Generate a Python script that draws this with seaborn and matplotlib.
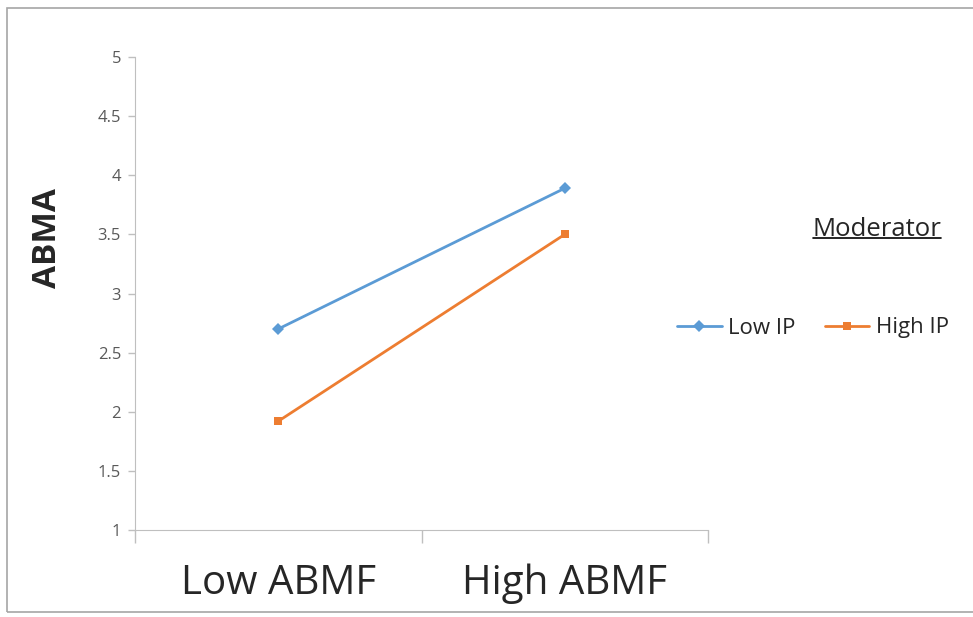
import matplotlib
matplotlib.use("Agg")
import matplotlib.pyplot as plt
from matplotlib.lines import Line2D
from matplotlib.patches import Rectangle
import pandas as pd
import seaborn as sns

# data
categories = ["Low ABMF", "High ABMF"]
low_ip = [2.70, 3.89]
high_ip = [1.92, 3.50]
series_names = ["Low IP", "High IP"]
y_ticks = [1, 1.5, 2, 2.5, 3, 3.5, 4, 4.5, 5]

df = pd.DataFrame({
    "x": [0, 1, 0, 1],
    "ABMA": low_ip + high_ip,
    "Moderator": [series_names[0]] * 2 + [series_names[1]] * 2,
})

sns.set_style("white")
plt.rcParams["font.family"] = ["Open Sans", "DejaVu Sans"]

colors = {"Low IP": "#5B9BD5", "High IP": "#ED7D31"}
markers = {"Low IP": "D", "High IP": "s"}

fig = plt.figure(figsize=(9.73, 6.17), dpi=100)
ax = fig.add_axes([135 / 973, 1 - 530 / 617, (708 - 135) / 973, (530 - 57) / 617])

sns.lineplot(data=df, x="x", y="ABMA", hue="Moderator", style="Moderator",
             palette=colors, markers=markers, dashes=False, linewidth=2,
             markersize=6, markeredgewidth=0, ax=ax, legend=False)

grey = "#BFBFBF"
ax.set_xlim(-0.5, 1.5)
ax.set_ylim(1, 5)
ax.set_yticks(y_ticks)
ax.set_yticklabels([f"{t:g}" for t in y_ticks], fontsize=12, color="#595959")
ax.tick_params(axis="y", length=5, width=1, color=grey, left=True, pad=5)

# category boundaries as ticks, labels at centres
ax.set_xticks([-0.5, 0.5, 1.5])
ax.set_xticklabels([])
ax.tick_params(axis="x", which="major", length=9, width=1, color=grey, bottom=True)
ax.set_xticks([0, 1], minor=True)
ax.set_xticklabels(categories, minor=True, fontsize=29)
ax.tick_params(axis="x", which="minor", length=0, pad=24)

for side in ["top", "right"]:
    ax.spines[side].set_visible(False)
ax.spines["left"].set_color(grey)
ax.spines["bottom"].set_color(grey)
ax.set_xlabel("")
ax.set_ylabel("")
fig.text(47 / 973, 1 - 238 / 617, "ABMA", fontsize=24, fontweight="bold",
         rotation=90, ha="center", va="center")

# legend on the right
handles = [Line2D([], [], color=colors[n], marker=markers[n], markersize=6,
                  markeredgewidth=0, linewidth=2) for n in series_names]
fig.legend(handles, series_names, loc="center", bbox_to_anchor=(813 / 973, 1 - 328 / 617),
           ncol=2, frameon=False, fontsize=16, handlelength=2.0, handletextpad=0.3,
           columnspacing=1.3, borderpad=0)

title = fig.text(877 / 973, 1 - 229 / 617, "Moderator", fontsize=18.5,
                 ha="center", va="center")
fig.canvas.draw()
bb = title.get_window_extent().transformed(fig.transFigure.inverted())
fig.add_artist(Line2D([bb.x0, bb.x1], [bb.y0 + 0.006, bb.y0 + 0.006],
                      color="black", linewidth=1.2, transform=fig.transFigure))

# outer grey frame
fig.add_artist(Rectangle((7 / 973, 1 - 612 / 617), 1.0, (612 - 8) / 617,
                         transform=fig.transFigure, fill=False,
                         edgecolor="#A6A6A6", linewidth=1.2))

fig.savefig("out.png", dpi=100)
